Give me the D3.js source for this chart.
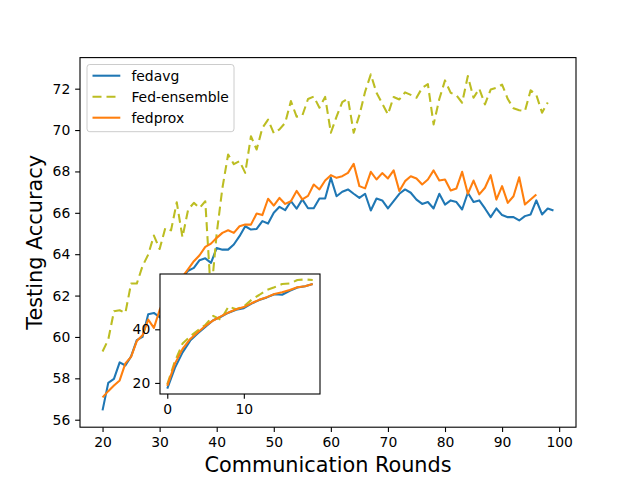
<!DOCTYPE html>
<html>
<head>
<meta charset="utf-8">
<script src="https://d3js.org/d3.v7.min.js"></script>
<style>
  body { margin: 0; background: #fff; }
  svg text { font-family: "DejaVu Sans", sans-serif; fill: #000; }
</style>
</head>
<body>
<svg id="chart" width="640" height="480"></svg>
<script>
// main chart: rounds 20 onward
const FIRST_ROUND = 20;
const fedavg = [
    56.45, 57.78, 57.97, 58.77, 58.62, 59.06, 59.85, 60.0, 61.1, 61.16,
    60.95, 61.5, 62.2, 62.3, 62.9, 63.2, 63.34, 63.71, 63.8, 63.58,
    64.3, 64.22, 64.22, 64.47, 64.87, 65.35, 65.19, 65.22, 65.6, 65.48,
    66.0, 66.29, 66.13, 66.56, 66.2, 66.65, 66.22, 66.22, 66.69, 66.69,
    67.69, 66.8, 67.02, 67.13, 66.92, 66.72, 66.92, 66.11, 66.69, 66.6,
    66.21, 66.56, 66.92, 67.13, 66.97, 66.64, 66.43, 66.52, 66.21, 66.92,
    66.4, 66.6, 66.52, 66.16, 66.97, 66.52, 66.6, 66.21, 65.79, 66.21,
    65.89, 65.79, 65.79, 65.63, 65.84, 65.92, 66.6, 65.92, 66.21, 66.11
];
const fedEnsemble = [
    59.3, 59.87, 61.24, 61.29, 61.16, 62.58, 62.58, 63.42, 63.98, 64.9,
    64.25, 65.27, 65.15, 66.51, 64.82, 66.16, 66.48, 66.24, 66.56, 62.0,
    65.0, 67.2, 68.82, 68.35, 68.5, 67.93, 69.7, 69.06, 70.1, 70.5,
    69.85, 70.03, 70.35, 71.4, 70.65, 70.7, 71.5, 71.62, 71.08, 71.6,
    69.87, 70.65, 71.35, 71.52, 69.87, 70.72, 71.85, 72.69, 71.8, 71.28,
    70.76, 71.6, 71.48, 71.82, 71.7, 71.56, 72.04, 72.22, 70.27, 71.5,
    72.4, 71.8, 71.68, 71.32, 72.61, 71.56, 72.0, 71.24, 71.96, 72.04,
    72.2, 71.5, 71.05, 70.96, 70.92, 71.92, 71.7, 70.84, 71.33
];
const fedprox = [
    57.08, 57.38, 57.65, 57.9, 58.72, 59.04, 59.8, 60.08, 60.84, 60.44,
    61.3, 61.9, 62.1, 62.7, 62.9, 63.28, 63.66, 63.95, 64.35, 64.51,
    64.79, 65.03, 65.16, 65.03, 65.35, 65.43, 65.43, 65.97, 65.89, 66.68,
    66.35, 66.72, 66.43, 66.56, 67.06, 66.65, 66.82, 67.37, 67.13, 67.56,
    67.82, 67.69, 67.77, 67.93, 68.37, 67.29, 67.18, 67.98, 67.61, 67.92,
    67.66, 68.05, 67.05, 67.53, 67.77, 67.66, 67.37, 67.61, 68.05, 67.56,
    67.61, 67.08, 67.18, 67.98, 66.92, 67.56, 66.89, 67.21, 67.82, 66.64,
    67.29, 66.48, 66.8, 67.72, 66.4, 66.64, 66.89
];

// inset: rounds 0..19
const insetFedavg = [17.9, 25.6, 31.4, 35.8, 38.5, 41.0, 43.4, 44.7, 46.2, 47.3,
    47.9, 49.6, 50.9, 51.9, 53.1, 52.9, 54.4, 55.6, 56.1, 56.9];
const insetEnsemble = [19.5, 28.1, 34.7, 37.4, 39.6, 41.7, 45.0, 43.6, 48.5, 47.5,
    48.5, 51.0, 52.8, 54.7, 55.7, 56.9, 57.1, 58.4, 58.6, 58.4];
const insetFedprox = [18.9, 27.2, 32.7, 36.4, 38.9, 41.3, 43.3, 44.8, 46.3, 47.5,
    48.3, 49.7, 51.0, 52.0, 53.2, 53.8, 54.7, 55.7, 56.1, 56.9];

const seriesNames = ['fedavg', 'Fed-ensemble', 'fedprox'];
const seriesColors = ['#1f77b4', '#bcbd22', '#ff7f0e'];

const xTicks = [20, 30, 40, 50, 60, 70, 80, 90, 100];
const yTicks = [56, 58, 60, 62, 64, 66, 68, 70, 72];
const insetXTicks = [0, 10];
const insetYTicks = [20, 40];

const svg = d3.select('#chart');

const LEFT = 80, RIGHT = 576, TOP = 57.6, BOTTOM = 427.2;
const IN_LEFT = 160, IN_RIGHT = 320, IN_TOP = 274, IN_BOTTOM = 394;
const TICK = 4.86;
const FONT = 13.9;
const LINE_W = 2.08;
const DASH = '9,5';

function padded(ext) {
    const m = (ext[1] - ext[0]) * 0.05;
    return [ext[0] - m, ext[1] + m];
}

function toPoints(values, start) {
    return values.map((v, i) => [start + i, v]);
}

function drawPanel(g, series, start, box, xt, yt, clipId) {
    const all = series.flat();
    const x = d3.scaleLinear()
        .domain(padded([start, start + d3.max(series, s => s.length) - 1]))
        .range([box.left, box.right]);
    const y = d3.scaleLinear()
        .domain(padded(d3.extent(all)))
        .range([box.bottom, box.top]);

    g.append('clipPath').attr('id', clipId)
        .append('rect')
        .attr('x', box.left).attr('y', box.top)
        .attr('width', box.right - box.left).attr('height', box.bottom - box.top);

    const line = d3.line().x(d => x(d[0])).y(d => y(d[1]));

    series.forEach((s, k) => {
        g.append('path')
            .datum(toPoints(s, start))
            .attr('d', line)
            .attr('fill', 'none')
            .attr('stroke', seriesColors[k])
            .attr('stroke-width', LINE_W)
            .attr('stroke-dasharray', k === 1 ? DASH : null)
            .attr('stroke-linejoin', 'round')
            .attr('clip-path', 'url(#' + clipId + ')');
    });

    const xAxis = g.append('g')
        .attr('transform', 'translate(0,' + box.bottom + ')')
        .call(d3.axisBottom(x).tickValues(xt).tickFormat(d3.format('d'))
            .tickSize(TICK).tickPadding(TICK).tickSizeOuter(0));
    const yAxis = g.append('g')
        .attr('transform', 'translate(' + box.left + ',0)')
        .call(d3.axisLeft(y).tickValues(yt).tickFormat(d3.format('d'))
            .tickSize(TICK).tickPadding(TICK).tickSizeOuter(0));
    [xAxis, yAxis].forEach(a => {
        a.select('.domain').remove();
        a.selectAll('line').attr('stroke', '#000').attr('stroke-width', 1.1);
        a.selectAll('text').attr('font-size', FONT).attr('font-family', '"DejaVu Sans", sans-serif');
    });

    g.append('rect')
        .attr('x', box.left).attr('y', box.top)
        .attr('width', box.right - box.left).attr('height', box.bottom - box.top)
        .attr('fill', 'none')
        .attr('stroke', '#000')
        .attr('stroke-width', 1.1);
}

// main axes
const main = svg.append('g');
main.append('rect')
    .attr('x', LEFT).attr('y', TOP)
    .attr('width', RIGHT - LEFT).attr('height', BOTTOM - TOP)
    .attr('fill', '#fff');
drawPanel(main, [fedavg, fedEnsemble, fedprox], FIRST_ROUND,
    {left: LEFT, right: RIGHT, top: TOP, bottom: BOTTOM}, xTicks, yTicks, 'clip-main');

svg.append('text')
    .text('Communication Rounds')
    .attr('x', (LEFT + RIGHT) / 2)
    .attr('y', 472)
    .attr('font-size', 20.8)
    .attr('text-anchor', 'middle');

svg.append('text')
    .text('Testing Accuracy')
    .attr('transform', 'translate(42,' + (TOP + BOTTOM) / 2 + ') rotate(-90)')
    .attr('font-size', 20.8)
    .attr('text-anchor', 'middle');

// legend
const legend = svg.append('g');
legend.append('rect')
    .attr('x', 87).attr('y', 64.5)
    .attr('width', 147).attr('height', 67.2)
    .attr('rx', 2.8)
    .attr('fill', '#fff').attr('fill-opacity', 0.8)
    .attr('stroke', '#cccccc').attr('stroke-width', 1);

seriesNames.forEach((name, k) => {
    const cy = 75.7 + k * 21;
    legend.append('line')
        .attr('x1', 92.5).attr('x2', 120.3)
        .attr('y1', cy).attr('y2', cy)
        .attr('stroke', seriesColors[k])
        .attr('stroke-width', LINE_W)
        .attr('stroke-dasharray', k === 1 ? DASH : null);
    legend.append('text')
        .text(name)
        .attr('x', 131.4)
        .attr('y', cy)
        .attr('dy', '0.35em')
        .attr('font-size', FONT);
});

// inset axes on top
const inset = svg.append('g');
inset.append('rect')
    .attr('x', IN_LEFT).attr('y', IN_TOP)
    .attr('width', IN_RIGHT - IN_LEFT).attr('height', IN_BOTTOM - IN_TOP)
    .attr('fill', '#fff');
drawPanel(inset, [insetFedavg, insetEnsemble, insetFedprox], 0,
    {left: IN_LEFT, right: IN_RIGHT, top: IN_TOP, bottom: IN_BOTTOM},
    insetXTicks, insetYTicks, 'clip-inset');
</script>
</body>
</html>
